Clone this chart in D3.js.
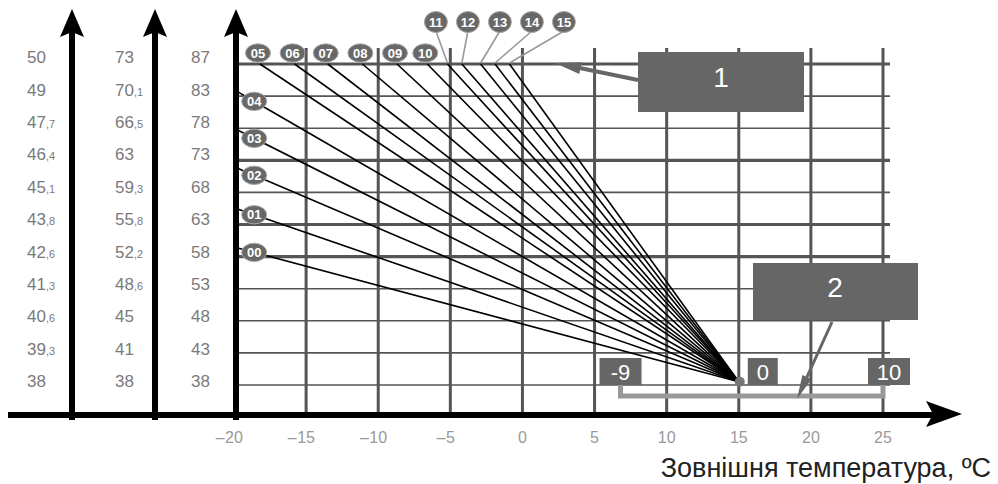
<!DOCTYPE html>
<html><head><meta charset="utf-8">
<script src="https://cdn.jsdelivr.net/npm/d3@7"></script>
<style>body{margin:0;background:#fff} svg{display:block} text{font-family:"Liberation Sans",Arial,sans-serif}</style>
</head><body><svg id="c" width="998" height="484"></svg>
<script>
// ---- data ----
const outdoorTicks = [-20,-15,-10,-5,0,5,10,15,20,25];
const flowTicks = [38,43,48,53,58,63,68,73,78,83,87];
const scaleALabels = ["38","39,3","40,6","41,3","42,6","43,8","45,1","46,4","47,7","49","50"];
const scaleBLabels = ["38","41","45","48,6","52,2","55,8","59,3","63","66,5","70,1","73"];
const curveIds = ["00","01","02","03","04","05","06","07","08","09","10","11","12","13","14","15"];
const curveStartOutdoor = [-20,-20,-20,-20,-20,-18.2,-15.8,-13.5,-11.1,-8.7,-6.6,-5.2,-4.2,-2.9,-1.9,-0.9];
const curveStartFlow = [59.5,65.6,72,78,83.8,87,87,87,87,87,87,87,87,87,87,87];
const curveEndOutdoor = 15;
const curveEndFlow = 38.5;
const roomShiftLabels = ["-9","0","10"];
const roomShiftOutdoor = [6.8,15,25];
const calloutLabels = ["1","2"];
const axisTitle = "Зовнішня температура, ºC";

// ---- scales ----
const svg = d3.select("#c");
const x = d3.scaleLinear().domain([-20,25]).range([234,883]);
const row = d3.scalePoint().domain(d3.range(flowTicks.length)).range([385,64]);
const y = d3.scaleLinear().domain(flowTicks).range(flowTicks.map((d,i)=>row(i)));
const labelRow = d3.scalePoint().domain(d3.range(flowTicks.length)).range([381,57]);
const thickRows = new Set([87,73,63,58]);

// ---- grid ----
const grid = svg.append("g");
grid.selectAll("line.v").data(outdoorTicks.slice(1)).join("line")
  .attr("x1",d=>x(d)).attr("x2",d=>x(d)).attr("y1",48).attr("y2",412)
  .attr("stroke","#555").attr("stroke-width",3);
grid.selectAll("line.h").data(flowTicks).join("line")
  .attr("x1",236).attr("x2",890).attr("y1",d=>y(d)).attr("y2",d=>y(d))
  .attr("stroke","#555").attr("stroke-width",d=>thickRows.has(d)?3.2:1.6);

// ---- curves ----
const curves = curveIds.map((id,i)=>({id, x0:curveStartOutdoor[i], y0:curveStartFlow[i]}));
svg.append("g").selectAll("line").data(curves).join("line")
  .attr("x1",d=>x(d.x0)).attr("y1",d=>y(d.y0))
  .attr("x2",x(curveEndOutdoor)).attr("y2",y(curveEndFlow))
  .attr("stroke","#000").attr("stroke-width",1.6);
svg.append("circle").attr("cx",x(curveEndOutdoor)+1).attr("cy",y(curveEndFlow)).attr("r",5).attr("fill","#777");

// curve labels
function labelPos(d,i){
  if (d.x0 === -20) {
    const t = -18.6;
    const f = (t - d.x0)/(curveEndOutdoor - d.x0);
    const py = y(d.y0) + f*(y(curveEndFlow)-y(d.y0));
    return {cx:x(t), cy:py, big:false};
  }
  if (i <= 10) return {cx:x(d.x0)-2, cy:53, big:false};
  return {cx:x(-6)+(i-11)*32, cy:22, big:true};
}
const lg = svg.append("g");
curves.forEach((d,i)=>{
  const p = labelPos(d,i);
  if (p.big) {
    lg.append("line").attr("x1",p.cx).attr("y1",p.cy+9).attr("x2",x(d.x0)).attr("y2",y(d.y0)-1)
      .attr("stroke","#999").attr("stroke-width",1.6);
  }
  lg.append("ellipse").attr("cx",p.cx).attr("cy",p.cy)
    .attr("rx",p.big?11.5:12.5).attr("ry",p.big?10.5:9.2)
    .attr("fill","#686868").attr("stroke","#aaa").attr("stroke-width",1);
  lg.append("text").attr("x",p.cx).attr("y",p.cy).attr("dy","0.36em")
    .attr("text-anchor","middle").attr("fill","#fff").attr("font-size",13).attr("font-weight","bold")
    .text(d.id);
});

// ---- axes ----
function vArrow(ax){
  svg.append("line").attr("x1",ax).attr("x2",ax).attr("y1",30).attr("y2",420)
    .attr("stroke","#000").attr("stroke-width",6);
  svg.append("path").attr("d",`M${ax},9 L${ax+12},37 L${ax},32 L${ax-12},37 Z`).attr("fill","#000");
}
[72,155,236].forEach(vArrow);
svg.append("line").attr("x1",8).attr("x2",936).attr("y1",415).attr("y2",415)
  .attr("stroke","#000").attr("stroke-width",6);
svg.append("path").attr("d","M962,414 L926,401 L933,414 L926,427 Z").attr("fill","#000");

// y labels
function yLabels(labels, lx){
  const g = svg.append("g");
  labels.forEach((s,i)=>{
    const parts = s.split(",");
    const t = g.append("text").attr("x",lx).attr("y",labelRow(i)).attr("dy","0.36em")
      .attr("fill","#7a7a7a").attr("font-size",17);
    t.append("tspan").text(parts[0]);
    if (parts.length>1) t.append("tspan").attr("font-size",11).text(","+parts[1]);
  });
}
yLabels(scaleALabels, 27);
yLabels(scaleBLabels, 115);
yLabels(flowTicks.map(String), 191);

// x tick labels
const xt = svg.append("g");
outdoorTicks.forEach(d=>{
  const t = xt.append("text").attr("x",x(d)).attr("y",443).attr("text-anchor","middle")
    .attr("fill","#999").attr("font-size",16).text(Math.abs(d));
  if (d<0){
    const w = t.node().getComputedTextLength();
    xt.append("text").attr("x",x(d)-w/2-0.5).attr("y",443).attr("text-anchor","end")
      .attr("fill","#999").attr("font-size",16).text("–");
  }
});
svg.append("text").attr("x",991).attr("y",477).attr("text-anchor","end")
  .attr("fill","#222").attr("font-size",27).text(axisTitle);

// ---- annotations ----
function arrow(x1,y1,x2,y2,w,len,hw){
  const dx=x2-x1, dy=y2-y1, L=Math.hypot(dx,dy), ux=dx/L, uy=dy/L;
  const bx=x2-ux*len, by=y2-uy*len;
  svg.append("line").attr("x1",x1).attr("y1",y1).attr("x2",bx+ux*2).attr("y2",by+uy*2)
    .attr("stroke","#666").attr("stroke-width",w);
  svg.append("path").attr("d",`M${x2},${y2} L${bx-uy*hw},${by+ux*hw} L${bx+uy*hw},${by-ux*hw} Z`).attr("fill","#666");
}
// bracket
svg.append("path").attr("d",`M${x(roomShiftOutdoor[0])},384 V396 H${x(roomShiftOutdoor[2])} V384`)
  .attr("fill","none").attr("stroke","#999").attr("stroke-width",5);
// callout 1
arrow(638,80,555,63,4,26,6);
svg.append("rect").attr("x",638).attr("y",52).attr("width",166).attr("height",60).attr("fill","#666");
svg.append("text").attr("x",721).attr("y",87).attr("text-anchor","middle").attr("fill","#fff").attr("font-size",28).text(calloutLabels[0]);
// callout 2
arrow(832,322,797,399,3,24,5);
svg.append("rect").attr("x",753).attr("y",263).attr("width",165).attr("height",57).attr("fill","#666");
svg.append("text").attr("x",835).attr("y",297).attr("text-anchor","middle").attr("fill","#fff").attr("font-size",28).text(calloutLabels[1]);
// room shift boxes
const boxOff = [0,24,6], boxW = [42,30,42];
roomShiftLabels.forEach((s,i)=>{
  const cx = x(roomShiftOutdoor[i]) + boxOff[i];
  svg.append("rect").attr("x",cx-boxW[i]/2).attr("y",358).attr("width",boxW[i]).attr("height",27).attr("fill","#666");
  svg.append("text").attr("x",cx).attr("y",380).attr("text-anchor","middle").attr("fill","#fff")
    .attr("font-size",22).text(s);
});
</script></body></html>
